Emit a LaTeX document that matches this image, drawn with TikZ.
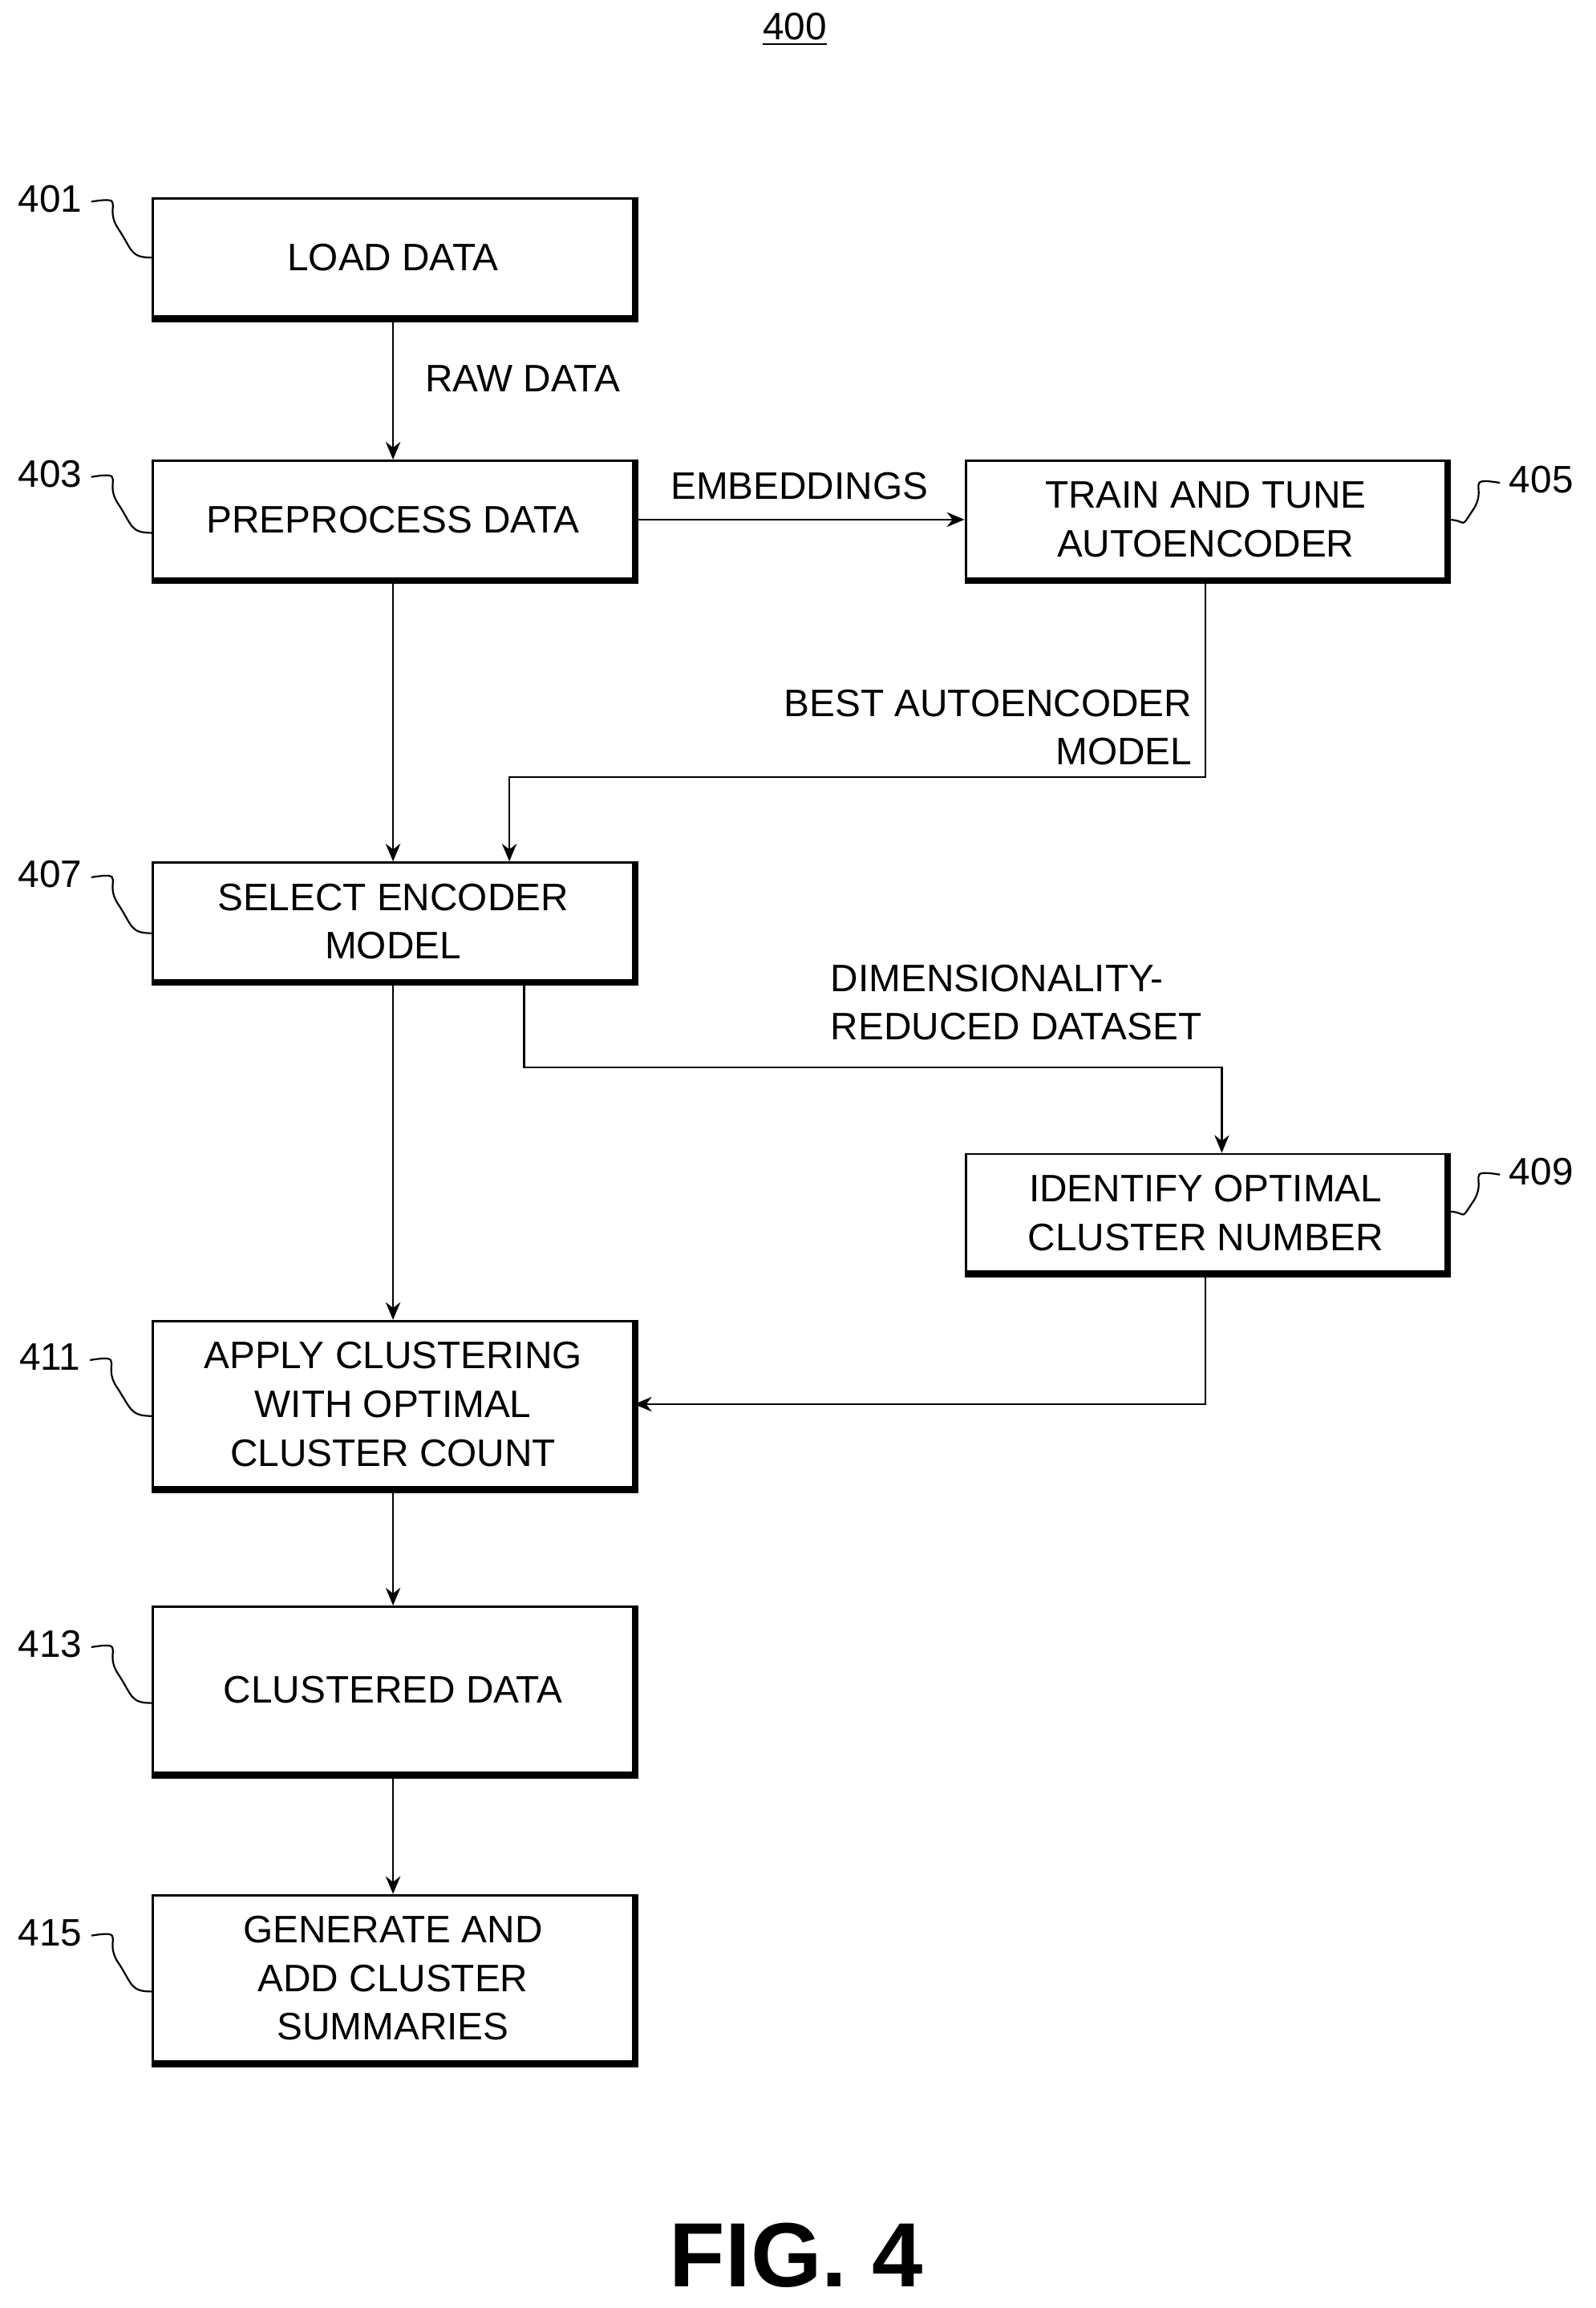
\documentclass[tikz,border=0pt]{standalone}
\usepackage{fontspec}
\setmainfont{Liberation Sans}
\usetikzlibrary{arrows.meta}
\begin{document}
\begin{tikzpicture}[x=0.5pt,y=-0.5pt,
  txt/.style={font=\fontsize{13}{16.5}\selectfont,align=center,inner sep=0},
  lab/.style={font=\fontsize{13}{16.5}\selectfont,inner sep=0},
  con/.style={line width=0.6pt,-{Stealth[length=6pt,width=5pt]}},
  sq/.style={line width=0.6pt}]
\useasboundingbox (0,0) rectangle (1084,1568);
\newcommand{\bx}[5]{%
  \node[draw,line width=0.8pt,minimum width=163pt,minimum height=#4,inner sep=0,txt] (#1) at (#2,#3) {#5};
  \draw[line width=2pt] ([xshift=0.5pt]#1.north east) -- ([xshift=0.5pt,yshift=-0.5pt]#1.south east) -- ([yshift=-0.5pt]#1.south west);}
\bx{b401}{267}{175}{40pt}{LOAD DATA}
\bx{b403}{267}{353}{40pt}{PREPROCESS DATA}
\bx{b405}{819}{353}{40pt}{TRAIN AND TUNE\\AUTOENCODER}
\bx{b407}{267}{626}{40pt}{SELECT ENCODER\\MODEL}
\bx{b409}{819}{824}{40pt}{IDENTIFY OPTIMAL\\CLUSTER NUMBER}
\bx{b411}{267}{954}{56.5pt}{APPLY CLUSTERING\\WITH OPTIMAL\\CLUSTER COUNT}
\bx{b413}{267}{1148}{56.5pt}{CLUSTERED DATA}
\bx{b415}{267}{1344}{56.5pt}{GENERATE AND\\ADD CLUSTER\\SUMMARIES}
\node[lab] (t400) at (540,20) {\underline{400}};
\node[font=\bfseries\fontsize{31}{36}\selectfont] (fig) at (541,1532) {FIG. 4};
% left reference labels
\foreach \n/\y in {401/135,403/322,407/594,411/922,413/1117,415/1313}{
  \node[lab] (l\n) at (34,\y) {\n};
  \draw[sq] (l\n.east) ++(6,2) .. controls +(25,-4) and +(-10,-15) .. ++(18,18) .. controls +(10,15) and +(-15,0) .. (b\n.west|-0,\y+40);
}
\foreach \n/\y in {405/326,409/796}{
  \node[lab] (l\n) at (1047,\y) {\n};
  \draw[sq] (l\n.west) ++(-6,2) .. controls +(-25,-4) and +(10,-15) .. ++(-18,18) .. controls +(-10,15) and +(15,0) .. (b\n.east|-0,\y+27);
}
% connectors
\draw[con] (b401) -- (b403);
\node[lab] (rd) at (355,257) {RAW DATA};
\draw[con] (b403) -- (b405);
\node[lab] (em) at (543,330) {EMBEDDINGS};
\draw[con] (b405.south) |- (346,528) -- (b407.north-|346,0);
\node[lab,align=right,anchor=north east] (bam) at (810,468) {BEST AUTOENCODER\\MODEL};
\draw[con] (b403) -- (b407);
\draw[con] (b407.south-|356,0) |- (830,725) -- (b409.north-|830,0);
\node[lab,align=left,anchor=north west] (drd) at (564,655) {DIMENSIONALITY-\\REDUCED DATASET};
\draw[con] (b407) -- (b411);
\draw[con] (b409.south) |- (b411.east);
\draw[con] (b411) -- (b413);
\draw[con] (b413) -- (b415);
\end{tikzpicture}
\end{document}
